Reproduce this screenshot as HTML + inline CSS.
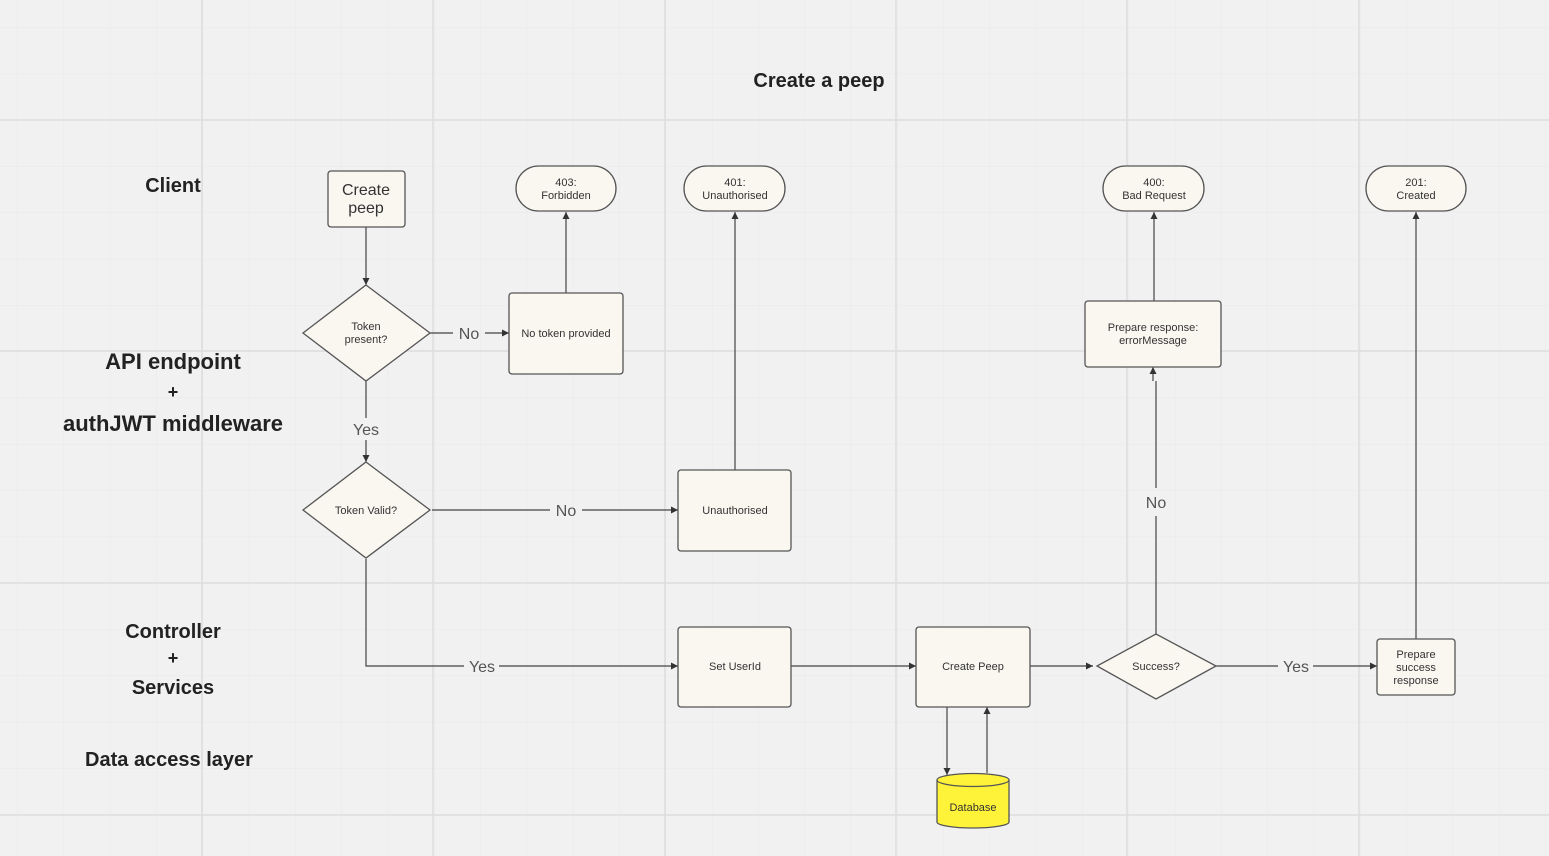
<!DOCTYPE html>
<html><head><meta charset="utf-8"><style>
html,body{margin:0;padding:0;background:#f1f1f1;}
svg{display:block;font-family:"Liberation Sans",sans-serif;}
</style></head><body>
<svg width="1549" height="856" viewBox="0 0 1549 856" xmlns="http://www.w3.org/2000/svg">
<defs>
<pattern id="minor" x="-29" y="-19" width="46.3" height="46.3" patternUnits="userSpaceOnUse">
<path d="M0 0 H46.3 M0 0 V46.3" stroke="#e9e9e9" stroke-width="1" fill="none"/>
</pattern>
<marker id="a" markerWidth="8" markerHeight="8" refX="7" refY="4" orient="auto" markerUnits="userSpaceOnUse">
<path d="M0 0.5 L7 4 L0 7.5 Z" fill="#333"/>
</marker>
</defs>
<rect width="1549" height="856" fill="#f1f1f1"/>
<rect width="1549" height="856" fill="url(#minor)"/>
<g stroke="#dedede" stroke-width="1.5">
<line x1="202" y1="0" x2="202" y2="856"/><line x1="433" y1="0" x2="433" y2="856"/>
<line x1="665" y1="0" x2="665" y2="856"/><line x1="896" y1="0" x2="896" y2="856"/>
<line x1="1127" y1="0" x2="1127" y2="856"/><line x1="1359" y1="0" x2="1359" y2="856"/>
<line x1="0" y1="120" x2="1549" y2="120"/><line x1="0" y1="351" x2="1549" y2="351"/>
<line x1="0" y1="583" x2="1549" y2="583"/><line x1="0" y1="815" x2="1549" y2="815"/>
</g>
<g font-weight="bold" fill="#222" text-anchor="middle">
<text x="819" y="87" font-size="20">Create a peep</text>
<text x="173" y="192" font-size="20">Client</text>
<text x="173" y="369" font-size="22">API endpoint</text>
<text x="173" y="398" font-size="18">+</text>
<text x="173" y="431" font-size="22">authJWT middleware</text>
<text x="173" y="638" font-size="20">Controller</text>
<text x="173" y="664" font-size="18">+</text>
<text x="173" y="694" font-size="20">Services</text>
<text x="169" y="766" font-size="20">Data access layer</text>
</g>
<g stroke="#444" stroke-width="1.2" fill="none">
<line x1="366" y1="227" x2="366" y2="285" marker-end="url(#a)"/>
<line x1="430" y1="333" x2="453" y2="333"/><line x1="485" y1="333" x2="509" y2="333" marker-end="url(#a)"/>
<line x1="566" y1="293" x2="566" y2="212" marker-end="url(#a)"/>
<line x1="366" y1="381" x2="366" y2="418"/><line x1="366" y1="440" x2="366" y2="462" marker-end="url(#a)"/>
<line x1="432" y1="510" x2="550" y2="510"/><line x1="582" y1="510" x2="678" y2="510" marker-end="url(#a)"/>
<line x1="735" y1="470" x2="735" y2="212" marker-end="url(#a)"/>
<polyline points="366,559 366,666 464,666"/><line x1="499" y1="666" x2="678" y2="666" marker-end="url(#a)"/>
<line x1="791" y1="666" x2="916" y2="666" marker-end="url(#a)"/>
<line x1="1030" y1="666" x2="1093" y2="666" marker-end="url(#a)"/>
<line x1="1156" y1="634" x2="1156" y2="516"/><line x1="1156" y1="488" x2="1156" y2="381"/>
<line x1="1153" y1="381" x2="1153" y2="367" marker-end="url(#a)"/>
<line x1="1154" y1="301" x2="1154" y2="212" marker-end="url(#a)"/>
<line x1="1216" y1="666" x2="1278" y2="666"/><line x1="1313" y1="666" x2="1377" y2="666" marker-end="url(#a)"/>
<line x1="1416" y1="639" x2="1416" y2="212" marker-end="url(#a)"/>
<line x1="947" y1="707" x2="947" y2="775" marker-end="url(#a)"/>
<line x1="987" y1="773" x2="987" y2="707" marker-end="url(#a)"/>
</g>
<g fill="#555" font-size="16" text-anchor="middle">
<text x="469" y="339">No</text><text x="366" y="435">Yes</text><text x="566" y="516">No</text>
<text x="482" y="672">Yes</text><text x="1156" y="508">No</text><text x="1296" y="672">Yes</text>
</g>
<g fill="#faf7f1" stroke="#555" stroke-width="1.3">
<rect x="328" y="171" width="77" height="56" rx="3"/>
<rect x="509" y="293" width="114" height="81" rx="3"/>
<rect x="678" y="470" width="113" height="81" rx="3"/>
<rect x="678" y="627" width="113" height="80" rx="3"/>
<rect x="916" y="627" width="114" height="80" rx="3"/>
<rect x="1085" y="301" width="136" height="66" rx="3"/>
<rect x="1377" y="639" width="78" height="56" rx="3"/>
<rect x="516" y="166" width="100" height="45" rx="22.5"/>
<rect x="684" y="166" width="101" height="45" rx="22.5"/>
<rect x="1103" y="166" width="101" height="45" rx="22.5"/>
<rect x="1366" y="166" width="100" height="45" rx="22.5"/>
<polygon points="366,285 430,333 366,381 303,333"/>
<polygon points="366,462 430,510 366,558 303,510"/>
<polygon points="1156,634 1216,666 1156,699 1097,666"/>
</g>
<path d="M937 780 V822 A36 6 0 0 0 1009 822 V780" fill="#fff33a" stroke="#555" stroke-width="1.3"/>
<ellipse cx="973" cy="780" rx="36" ry="6.5" fill="#fff33a" stroke="#555" stroke-width="1.3"/>
<g fill="#333" text-anchor="middle" font-size="11">
<text x="366" y="195" font-size="16">Create</text><text x="366" y="213" font-size="16">peep</text>
<text x="566" y="186">403:</text><text x="566" y="199">Forbidden</text>
<text x="735" y="186">401:</text><text x="735" y="199">Unauthorised</text>
<text x="1154" y="186">400:</text><text x="1154" y="199">Bad Request</text>
<text x="1416" y="186">201:</text><text x="1416" y="199">Created</text>
<text x="366" y="330">Token</text><text x="366" y="343">present?</text>
<text x="566" y="337">No token provided</text>
<text x="366" y="514">Token Valid?</text>
<text x="735" y="514">Unauthorised</text>
<text x="735" y="670">Set UserId</text>
<text x="973" y="670">Create Peep</text>
<text x="1156" y="670">Success?</text>
<text x="1153" y="331">Prepare response:</text><text x="1153" y="344">errorMessage</text>
<text x="1416" y="658">Prepare</text><text x="1416" y="671">success</text><text x="1416" y="684">response</text>
<text x="973" y="811">Database</text>
</g>
</svg>
</body></html>
